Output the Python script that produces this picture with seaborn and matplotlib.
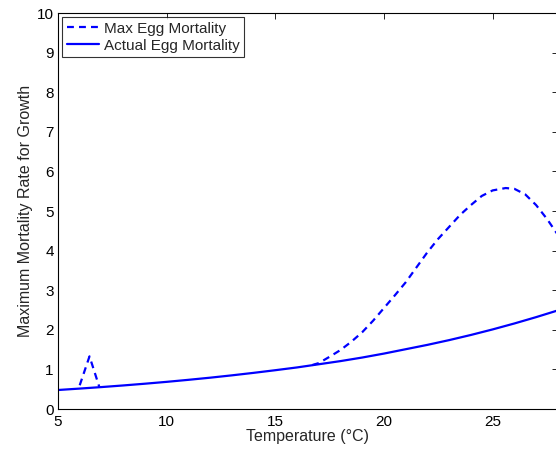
import matplotlib
matplotlib.use("Agg")
import matplotlib.pyplot as plt
import seaborn as sns
import numpy as np
import pandas as pd

# Data
temp_actual = [5, 6, 7, 8, 9, 10, 11, 12, 13, 14, 15, 16, 17, 18, 19, 20,
               21, 22, 23, 24, 25, 26, 27, 28]
actual_mort = [0.48, 0.516, 0.554, 0.595, 0.639, 0.686, 0.737, 0.791, 0.850,
               0.913, 0.980, 1.05, 1.13, 1.21, 1.30, 1.40, 1.51, 1.62, 1.74,
               1.87, 2.01, 2.16, 2.32, 2.49]

temp_spike = [6.0, 6.45, 6.9]
max_spike = [0.60, 1.33, 0.56]

temp_max = [16.7, 17, 17.5, 18, 18.5, 19, 19.5, 20, 20.5, 21, 21.5, 22, 22.5,
            23, 23.5, 24, 24.5, 25, 25.6, 26, 26.5, 27, 27.5, 28]
max_mort = [1.11, 1.16, 1.32, 1.49, 1.70, 1.94, 2.23, 2.55, 2.87, 3.20, 3.58,
            3.96, 4.30, 4.60, 4.90, 5.15, 5.38, 5.52, 5.58, 5.56, 5.42, 5.15,
            4.80, 4.40]

sns.set_theme(style="white")
plt.rcParams['font.family'] = ['Liberation Sans', 'DejaVu Sans']

fig = plt.figure(figsize=(5.56, 4.53), dpi=100)
ax = fig.add_axes([0.1043, 0.0971, 0.8990, 0.8742])

blue = "#0000FF"
LW = 1.6
DASH = [3.1, 2.3]
df_max = pd.DataFrame({"t": temp_max, "m": max_mort})
df_spike = pd.DataFrame({"t": temp_spike, "m": max_spike})
df_act = pd.DataFrame({"t": temp_actual, "m": actual_mort})

sns.lineplot(data=df_spike, x="t", y="m", ax=ax, color=blue, lw=LW,
             sort=False)
ax.lines[-1].set_dashes(DASH)
sns.lineplot(data=df_max, x="t", y="m", ax=ax, color=blue, lw=LW,
             sort=False, label="Max Egg Mortality")
ax.lines[-1].set_dashes(DASH)
sns.lineplot(data=df_act, x="t", y="m", ax=ax, color=blue, lw=LW,
             sort=False, label="Actual Egg Mortality")

ax.set_xlim(5, 28)
ax.set_ylim(0, 10)
ax.set_xticks([5, 10, 15, 20, 25])
ax.set_yticks(range(0, 11))
ax.set_xlabel("Temperature (°C)", fontsize=11.5, labelpad=0)
ax.set_ylabel("Maximum Mortality Rate for Growth", fontsize=11.5, labelpad=3)
ax.tick_params(axis="x", pad=4)
ax.tick_params(axis="y", pad=3)
ax.tick_params(direction="in", length=4, width=0.6, top=True, right=True,
               labelsize=11, colors="black")
for s in ax.spines.values():
    s.set_color("black")
    s.set_linewidth(0.8)

leg = ax.legend(loc="upper left", fontsize=11, frameon=True, fancybox=False,
                borderpad=0.3, handlelength=2.15, handletextpad=0.3,
                labelspacing=0.2, borderaxespad=0.26)
leg.get_frame().set_edgecolor("black")
leg.get_frame().set_linewidth(0.8)
leg.get_lines()[0].set_dashes(DASH)

fig.savefig("out.png", dpi=100)
